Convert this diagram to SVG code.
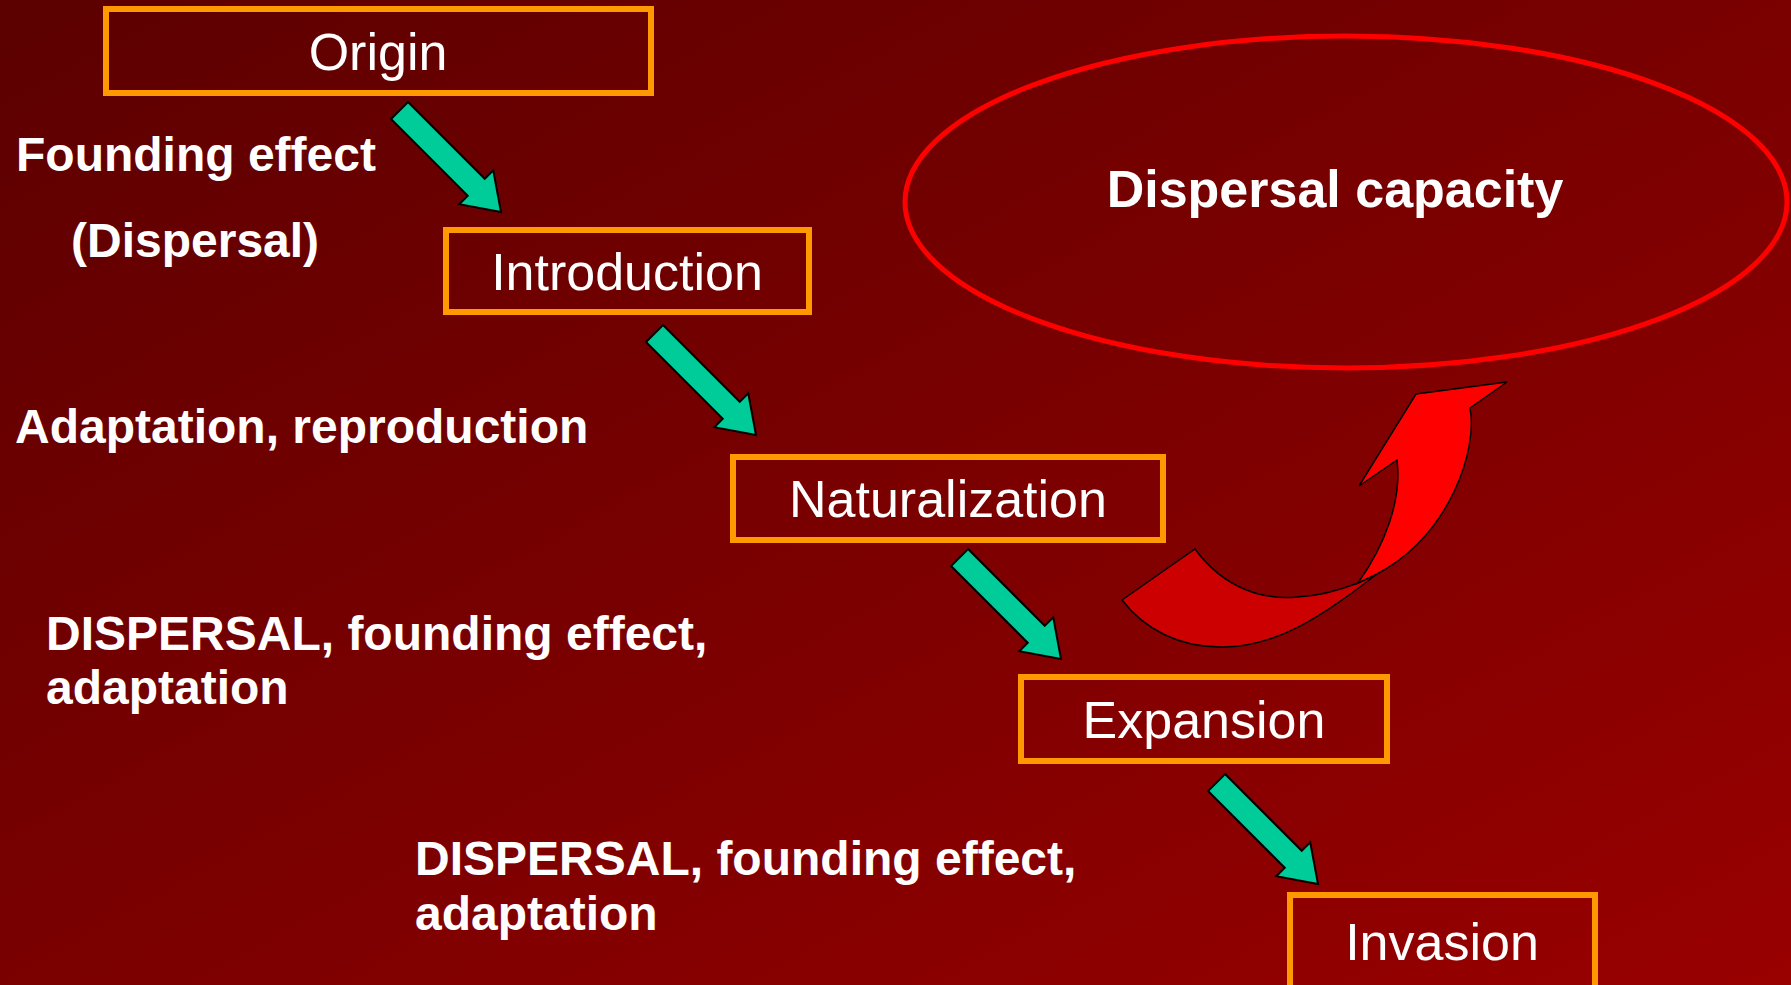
<svg xmlns="http://www.w3.org/2000/svg" width="1791" height="985" viewBox="0 0 1791 985">
<defs>
<linearGradient id="bg" x1="0" y1="0" x2="1" y2="1">
<stop offset="0" stop-color="#5c0000"/>
<stop offset="1" stop-color="#990000"/>
</linearGradient>
<polygon id="tarrow" points="-143.5,-12 -35,-12 -35,-24 0,0 -35,24 -35,12 -143.5,12"/>
</defs>
<style>
.box{fill:none;stroke:#ff9900;stroke-width:6}
.bt{font-family:"Liberation Sans",Arial,sans-serif;font-size:52px;fill:#ffffff;text-anchor:middle}
.lb{font-family:"Liberation Sans",Arial,sans-serif;font-size:48px;font-weight:bold;fill:#ffffff}
.ta{fill:#00cc99;stroke:#000000;stroke-width:2;stroke-linejoin:miter}
.ca{stroke:#000000;stroke-width:1.5;stroke-linejoin:miter}
</style>
<rect x="0" y="0" width="1791" height="985" fill="url(#bg)"/>

<g id="node-origin">
<rect class="box" x="106" y="9" width="545" height="84"/>
<text class="bt" x="378" y="70">Origin</text>
</g>
<g id="node-introduction">
<rect class="box" x="446" y="230" width="363" height="82"/>
<text class="bt" x="627" y="290">Introduction</text>
</g>
<g id="node-naturalization">
<rect class="box" x="733" y="457" width="430" height="83"/>
<text class="bt" x="948" y="517">Naturalization</text>
</g>
<g id="node-expansion">
<rect class="box" x="1021" y="677" width="366" height="84"/>
<text class="bt" x="1204" y="738">Expansion</text>
</g>
<g id="node-invasion">
<rect class="box" x="1290" y="895" width="305" height="94"/>
<text class="bt" x="1442" y="960">Invasion</text>
</g>
<g id="node-capacity">
<ellipse cx="1346" cy="202" rx="441" ry="166" fill="none" stroke="#ff0000" stroke-width="5"/>
<text class="lb" x="1335" y="207" text-anchor="middle" style="font-size:52px">Dispersal capacity</text>
</g>

<g id="labels">
<text class="lb" x="16" y="171">Founding effect</text>
<text class="lb" x="71" y="257">(Dispersal)</text>
<text class="lb" x="15" y="443">Adaptation, reproduction</text>
<text class="lb" x="46" y="650">DISPERSAL, founding effect,</text>
<text class="lb" x="46" y="704">adaptation</text>
<text class="lb" x="415" y="875">DISPERSAL, founding effect,</text>
<text class="lb" x="415" y="930">adaptation</text>
</g>

<g id="connectors">
<use href="#tarrow" class="ta" transform="translate(501,212) rotate(45)"/>
<use href="#tarrow" class="ta" transform="translate(756,435) rotate(45)"/>
<use href="#tarrow" class="ta" transform="translate(1061,659) rotate(45)"/>
<use href="#tarrow" class="ta" transform="translate(1318,884) rotate(45)"/>
<path class="ca" fill="#cc0000" d="M1122,600 L1195,549 C1225,590 1265,600 1297,597 C1320,596 1340,590 1358,583 L1377,574 C1330,610 1280,648 1220,647 C1180,647 1145,630 1122,600 Z"/>
<path class="ca" fill="#ff0000" d="M1358,583 C1385,545 1402,500 1397,460 L1359,486 L1416,394 L1507,382 L1470,408 C1478,450 1450,535 1377,574 Z"/>
</g>
</svg>
